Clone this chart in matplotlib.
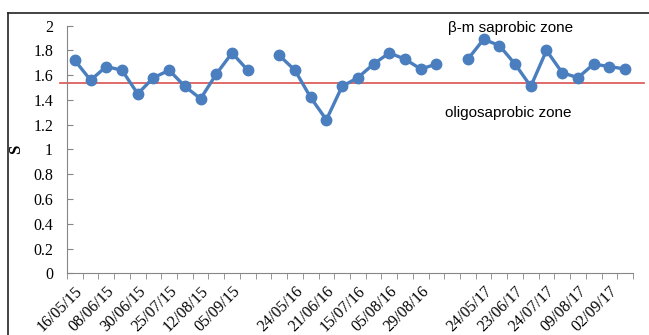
import numpy as np
import matplotlib
matplotlib.use("Agg")
import matplotlib.pyplot as plt
from matplotlib.lines import Line2D

plt.rcParams["font.family"] = "serif"
plt.rcParams["font.serif"] = ["Liberation Serif", "DejaVu Serif"]

# Saprobic index S per sampling date (NaN = season break)
s_2015 = [1.72, 1.56, 1.67, 1.64, 1.45, 1.58, 1.64, 1.51, 1.41, 1.61, 1.78, 1.64]
s_2016 = [1.76, 1.64, 1.42, 1.24, 1.51, 1.58, 1.69, 1.78, 1.73, 1.65, 1.69]
s_2017 = [1.73, 1.89, 1.84, 1.69, 1.51, 1.80, 1.62, 1.58, 1.69, 1.67, 1.65]
zone_limit = 1.54

tick_labels = ["16/05/15", "08/06/15", "30/06/15", "25/07/15", "12/08/15", "05/09/15", "",
               "24/05/16", "21/06/16", "15/07/16", "05/08/16", "29/08/16", "",
               "24/05/17", "23/06/17", "24/07/17", "09/08/17", "02/09/17"]

values = s_2015 + [np.nan] + s_2016 + [np.nan] + s_2017
x = np.arange(len(values))

fig = plt.figure(figsize=(6.49, 3.35), dpi=100)
ax = fig.add_axes([0.1032, 0.1842, 0.8721, 0.7391])

ax.plot(x, values, color="#4a7ebf", lw=2.4, marker="o", ms=7.5, zorder=3)
ax.axhline(zone_limit, xmin=-0.012, xmax=1.02, color="#d9534f", lw=1.2,
           clip_on=False, zorder=2)

ax.set_xlim(-0.5, len(values) - 0.5)
ax.set_ylim(0, 2)
yt = np.arange(0, 2.01, 0.2).round(1)
ax.set_yticks(yt)
ax.set_yticklabels([f"{v:g}" for v in yt], fontsize=11.5)

ax.set_xticks(np.arange(0, len(values), 2))
ax.set_xticklabels(tick_labels, rotation=45, ha="right", rotation_mode="anchor",
                   fontsize=11.5)
ax.set_xticks(np.arange(-0.5, len(values), 1), minor=True)
ax.tick_params(axis="x", which="major", length=0, pad=7)
ax.tick_params(axis="x", which="minor", length=4, color="#868686", direction="out")
ax.tick_params(axis="y", length=4, color="#868686", direction="in", pad=10)

for side in ["top", "right"]:
    ax.spines[side].set_visible(False)
for side in ["left", "bottom"]:
    ax.spines[side].set_color("#868686")

ax.set_ylabel("S", fontweight="bold", fontsize=12)
ax.yaxis.set_label_coords(-0.076, 0.5)

ax.text(0.673, 1.98, "β-m saprobic zone", transform=ax.get_yaxis_transform(),
        family="Liberation Sans", fontsize=11, va="center", ha="left")
ax.text(0.668, 1.297, "oligosaprobic zone", transform=ax.get_yaxis_transform(),
        family="Liberation Sans", fontsize=11, va="center", ha="left")

# outer frame (open at right and bottom, as in the source image)
fig.add_artist(Line2D([8 / 649, 1.0], [1 - 13 / 335] * 2, color="#222222", lw=1.2))
fig.add_artist(Line2D([8 / 649] * 2, [0, 1 - 13 / 335], color="#222222", lw=1.2))

fig.savefig("out.png", dpi=100)
